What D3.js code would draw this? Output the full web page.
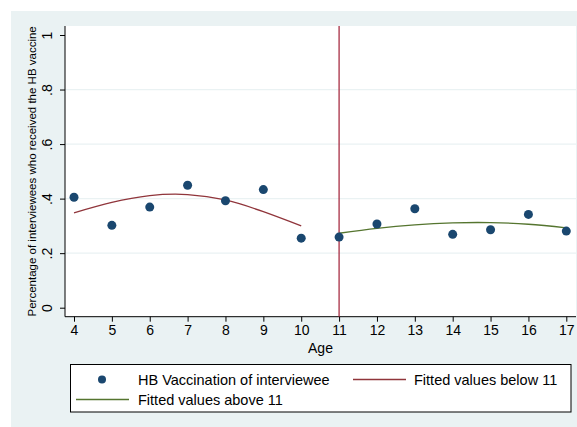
<!DOCTYPE html>
<html><head><meta charset="utf-8">
<script src="https://cdn.jsdelivr.net/npm/d3@7"></script>
<style>body{margin:0;background:#fff}svg{display:block;font-family:"Liberation Sans",Arial,sans-serif}</style>
</head><body><svg id="c" width="577" height="427"></svg>
<script>
const ages = [4,5,6,7,8,9,10,11,12,13,14,15,16,17];
const vaccinated = [0.405,0.302,0.369,0.449,0.392,0.433,0.255,0.259,0.307,0.363,0.269,0.286,0.342,0.281];
const fitBelowAges = [4,5,6,7,8,9,10];
const fitBelowVals = [0.348,0.386,0.411,0.415,0.395,0.352,0.300];
const fitAboveAges = [11,12,13,14,15,16,17];
const fitAboveVals = [0.273,0.291,0.304,0.311,0.312,0.306,0.293];
const yTicks = [0,0.2,0.4,0.6,0.8,1];
const yTickLabels = ["0",".2",".4",".6",".8","1"];
const xTicks = [4,5,6,7,8,9,10,11,12,13,14,15,16,17];
const cutoff = 11;

const svg = d3.select("#c");
const bg = "#eaf2f3";
svg.append("rect").attr("x",11).attr("y",11).attr("width",566).attr("height",416).attr("fill",bg);
const L=65, R=576, T=26, B=316.7;
svg.append("rect").attr("x",L).attr("y",T).attr("width",R-L).attr("height",B-T).attr("fill","#fff");

const x = d3.scaleLinear().domain([4,17]).range([74,566.3]);
const y = d3.scaleLinear().domain([0,1]).range([307.7,35]);

// gridlines
svg.append("g").selectAll("line").data(yTicks.filter(d=>d>0&&d<1)).join("line")
  .attr("x1",L).attr("x2",R).attr("y1",d=>y(d)).attr("y2",d=>y(d))
  .attr("stroke",bg).attr("stroke-width",1.2);

// axes
const ya = svg.append("g").attr("transform",`translate(${L},0)`)
  .call(d3.axisLeft(y).tickValues(yTicks).tickSize(5).tickFormat((d,i)=>yTickLabels[i]));
ya.select(".domain").attr("d",`M0,${T}V${B}`).attr("stroke","#000");
ya.selectAll(".tick line").attr("stroke","#000");
ya.selectAll(".tick text").attr("transform","rotate(-90)").attr("x",0).attr("y",-17)
  .attr("dy","0").attr("text-anchor","middle").attr("font-size",14).attr("fill","#000")
  .attr("dominant-baseline","middle");

const xa = svg.append("g").attr("transform",`translate(0,${B})`)
  .call(d3.axisBottom(x).tickValues(xTicks).tickSize(5).tickFormat(d3.format("d")));
xa.select(".domain").attr("d",`M${L},0H${R}`).attr("stroke","#000");
xa.selectAll(".tick line").attr("stroke","#000");
xa.selectAll(".tick text").attr("font-size",14).attr("fill","#000").attr("y",8);

svg.append("text").attr("x",(L+R)/2).attr("y",353).attr("text-anchor","middle")
  .attr("font-size",14).text("Age");
svg.append("text").attr("transform",`translate(36,${(T+B)/2}) rotate(-90)`)
  .attr("text-anchor","middle").attr("font-size",11.5)
  .text("Percentage of interviewees who received the HB vaccine");

// cutoff line
svg.append("line").attr("x1",x(cutoff)).attr("x2",x(cutoff)).attr("y1",T).attr("y2",B)
  .attr("stroke","#a01c34").attr("stroke-width",1.2);

const line = d3.line().x(d=>x(d[0])).y(d=>y(d[1])).curve(d3.curveNatural);
svg.append("path").attr("d",line(fitBelowAges.map((a,i)=>[a,fitBelowVals[i]])))
  .attr("fill","none").attr("stroke","#90353b").attr("stroke-width",1.3);
svg.append("path").attr("d",line(fitAboveAges.map((a,i)=>[a,fitAboveVals[i]])))
  .attr("fill","none").attr("stroke","#55752f").attr("stroke-width",1.3);

svg.append("g").selectAll("circle").data(ages).join("circle")
  .attr("cx",d=>x(d)).attr("cy",(d,i)=>y(vaccinated[i])).attr("r",4.5).attr("fill","#1a476f");

// legend
const lg = svg.append("g");
lg.append("rect").attr("x",70.5).attr("y",364.5).attr("width",500.5).attr("height",47.5)
  .attr("fill","#fff").attr("stroke","#000").attr("stroke-width",1);
lg.append("circle").attr("cx",102).attr("cy",379.5).attr("r",4).attr("fill","#1a476f");
lg.append("text").attr("x",138).attr("y",384.5).attr("font-size",14.5).text("HB Vaccination of interviewee");
lg.append("line").attr("x1",353).attr("x2",406).attr("y1",379.5).attr("y2",379.5).attr("stroke","#90353b").attr("stroke-width",1.3);
lg.append("text").attr("x",414).attr("y",384.5).attr("font-size",14.5).text("Fitted values below 11");
lg.append("line").attr("x1",76).attr("x2",129).attr("y1",399.5).attr("y2",399.5).attr("stroke","#55752f").attr("stroke-width",1.3);
lg.append("text").attr("x",138).attr("y",404.5).attr("font-size",14.5).text("Fitted values above 11");
</script></body></html>
